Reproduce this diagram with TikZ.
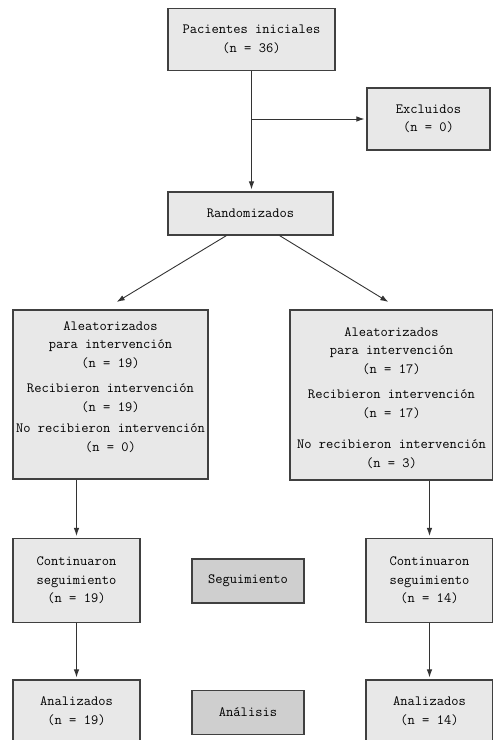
\documentclass[tikz,border=0pt]{standalone}
\usepackage{fontspec}
\usetikzlibrary{arrows.meta}
\begin{document}
\begin{tikzpicture}[x=1pt,y=-1pt]
	% Styles for boxes and arrows
	\tikzset{box/.style={draw=black!75, fill=black!9, line width=1.1pt, inner sep=0pt, align=center, font=\ttfamily\fontsize{14.1}{18.5}\selectfont},
		phase/.style={box, fill=black!19},
		flow/.style={draw=black!80, line width=0.9pt, -{Latex[length=8pt,width=5.5pt]}, shorten >=2pt}}
	\useasboundingbox (0,0) rectangle (493,740);
	\clip (0,0) rectangle (493,740);
	
	% Top part
	\node[box, minimum width=167, minimum height=62] (pac) at (251.5,39.5) {Pacientes iniciales\\(n = 36)};
	\node[box, minimum width=123, minimum height=62] (exc) at (428.5,119) {Excluidos\\(n = 0)};
	\node[box, minimum width=165, minimum height=43] (rand) at (250.5,213.5) {Randomizados};
	
	\draw[flow] (pac.south) -- (pac.south |- rand.north);
	\coordinate (br) at (pac.south |- exc.west);
	\draw[flow] (br) -- (exc.west);
	
	% The two arms
	\node[box, minimum width=195, minimum height=169] (armL) at (110.5,394.5) {\begin{tabular}{@{}c@{}}Aleatorizados\\para intervención\\(n = 19)\\[7pt]Recibieron intervención\\(n = 19)\\[3pt]No recibieron intervención\\(n = 0)\\[15pt]\end{tabular}};
	\node[box, minimum width=203, minimum height=170] (armR) at (391.5,395) {\begin{tabular}{@{}c@{}}\noalign{\vskip 6pt}Aleatorizados\\para intervención\\(n = 17)\\[7pt]Recibieron intervención\\(n = 17)\\[13pt]No recibieron intervención\\(n = 3)\end{tabular}};
	
	\coordinate (la) at (115,303);
	\coordinate (ra) at (390,303);
	\draw[flow] ([xshift=-24]rand.south) -- (la);
	\draw[flow] ([xshift=29]rand.south) -- (ra);
	
	% Follow-up and analysis
	\node[box, minimum width=127, minimum height=84] (contL) at (76.5,580.5) {Continuaron\\seguimiento\\(n = 19)};
	\node[box, minimum width=127, minimum height=84] (contR) at (429.5,580.5) {Continuaron\\seguimiento\\(n = 14)};
	\node[phase, minimum width=112, minimum height=44] (seg) at (248,581) {Seguimiento};
	
	\node[box, minimum width=127, minimum height=62] (anaL) at (76.5,711) {Analizados\\(n = 19)};
	\node[box, minimum width=127, minimum height=62] (anaR) at (429.5,711) {Analizados\\(n = 14)};
	\node[phase, minimum width=112, minimum height=44] (anal) at (248,712.5) {Análisis};
	
	\draw[flow] (contL.north |- armL.south) -- (contL.north);
	\draw[flow] (contR.north |- armR.south) -- (contR.north);
	\draw[flow] (contL.south) -- (anaL.north);
	\draw[flow] (contR.south) -- (anaR.north);
\end{tikzpicture}
\end{document}
